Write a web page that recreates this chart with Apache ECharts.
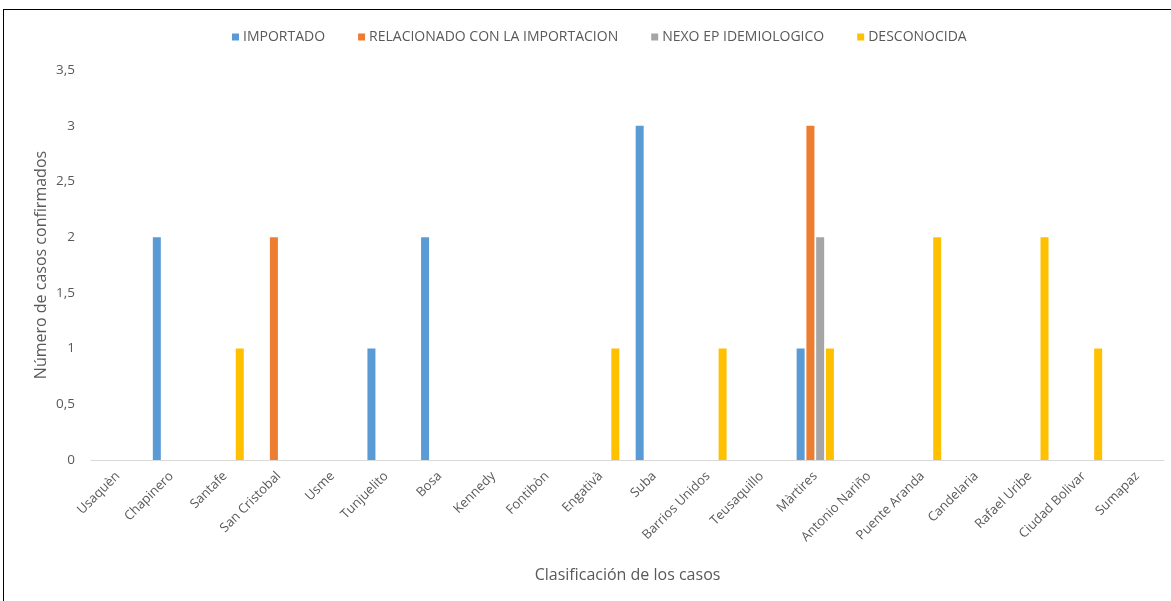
<!DOCTYPE html>
<html>
<head>
<meta charset="utf-8">
<script src="https://cdn.jsdelivr.net/npm/echarts@6/dist/echarts.min.js"></script>
<style>
  html, body { margin: 0; padding: 0; background: #fff; }
  #chart { width: 1171px; height: 601px; position: absolute; left: 0; top: 0; }
  #frame { position: absolute; left: 3px; top: 9px; width: 1168px; height: 592px;
           border-top: 1px solid #000; border-left: 1px solid #000; pointer-events: none; }
</style>
</head>
<body>
<div id="chart"></div>
<div id="frame"></div>
<script>
// Localidades de Bogotá
const localidades = ['Usaquèn', 'Chapinero', 'Santafe', 'San Cristobal', 'Usme', 'Tunjuelito', 'Bosa',
  'Kennedy', 'Fontibòn', 'Engativà', 'Suba', 'Barrios Unidos', 'Teusaquillo', 'Màrtires',
  'Antonio Nariño', 'Puente Aranda', 'Candelaria', 'Rafael Uribe', 'Ciudad Bolivar', 'Sumapaz'];

// Casos confirmados por tipo de contagio
const importado     = [0, 2, 0, 0, 0, 1, 2, 0, 0, 0, 3, 0, 0, 1, 0, 0, 0, 0, 0, 0];
const relacionado   = [0, 0, 0, 2, 0, 0, 0, 0, 0, 0, 0, 0, 0, 3, 0, 0, 0, 0, 0, 0];
const nexo          = [0, 0, 0, 0, 0, 0, 0, 0, 0, 0, 0, 0, 0, 2, 0, 0, 0, 0, 0, 0];
const desconocida   = [0, 0, 1, 0, 0, 0, 0, 0, 0, 1, 0, 1, 0, 1, 0, 2, 0, 2, 1, 0];

const yTicks = { min: 0, max: 3.5, interval: 0.5 };

const font = '"Open Sans", "Liberation Sans", sans-serif';
const textColor = '#595959';

function barSeries(name, data, color) {
  return {
    name, type: 'bar', data,
    barWidth: 8, barGap: '22%',
    itemStyle: { color },
    emphasis: { disabled: true }
  };
}

const chart = echarts.init(document.getElementById('chart'), null, { renderer: 'canvas' });
chart.setOption({
  animation: false,
  textStyle: { fontFamily: font },
  legend: {
    top: 25, left: 227,
    itemWidth: 7, itemHeight: 7, itemGap: 33,
    icon: 'rect',
    textStyle: { color: textColor, fontSize: 14, fontFamily: font, padding: [0, 0, 0, -1] },
    data: ['IMPORTADO', 'RELACIONADO CON LA IMPORTACION', 'NEXO EP IDEMIOLOGICO', 'DESCONOCIDA']
  },
  grid: { left: 91, right: 7, top: 70, bottom: 141, containLabel: false },
  xAxis: {
    type: 'category',
    data: localidades,
    name: 'Clasificación de los casos',
    nameLocation: 'middle', nameGap: 107,
    nameMoveOverlap: false,
    nameTextStyle: { color: textColor, fontSize: 16, fontFamily: font },
    axisLine: { lineStyle: { color: '#D9D9D9', width: 1 } },
    axisTick: { show: false },
    axisLabel: { rotate: 45, color: textColor, fontSize: 13, margin: 14, interval: 0, fontFamily: font }
  },
  yAxis: {
    type: 'value',
    min: yTicks.min, max: yTicks.max, interval: yTicks.interval,
    name: 'Número de casos confirmados',
    nameLocation: 'middle', nameGap: 42,
    nameMoveOverlap: false,
    nameTextStyle: { color: textColor, fontSize: 16, fontFamily: font },
    axisLine: { show: false },
    axisTick: { show: false },
    splitLine: { show: false },
    axisLabel: {
      color: textColor, fontSize: 13.5, margin: 16, fontFamily: font,
      formatter: v => String(v).replace('.', ',')
    }
  },
  series: [
    barSeries('IMPORTADO', importado, '#5B9BD5'),
    barSeries('RELACIONADO CON LA IMPORTACION', relacionado, '#ED7D31'),
    barSeries('NEXO EP IDEMIOLOGICO', nexo, '#A5A5A5'),
    barSeries('DESCONOCIDA', desconocida, '#FFC000')
  ]
});
</script>
</body>
</html>
